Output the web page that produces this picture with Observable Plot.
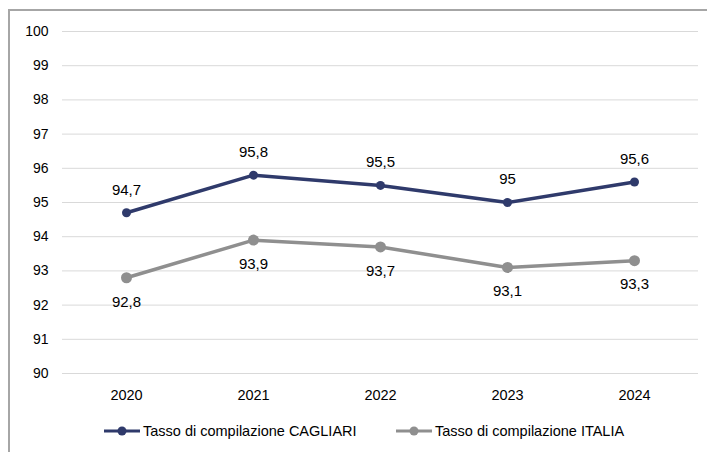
<!DOCTYPE html>
<html><head><meta charset="utf-8">
<script src="https://cdn.jsdelivr.net/npm/d3@7"></script>
<script src="https://cdn.jsdelivr.net/npm/@observablehq/plot@0.6"></script>
<style>
body{margin:0;background:#fff;font-family:"Liberation Sans",Arial,sans-serif;}
#wrap{position:relative;width:707px;height:452px;overflow:hidden;}
#chart{position:absolute;left:0;top:0;}
.bt{position:absolute;left:9px;top:9px;width:700px;height:2px;background:#a6a6a6;}
.bl{position:absolute;left:8px;top:9px;width:2px;height:450px;background:#a6a6a6;}
#legend{position:absolute;top:423px;left:0;width:707px;font-size:14.5px;color:#000;}
.item{position:absolute;display:flex;align-items:center;gap:2px;white-space:nowrap;}
</style></head>
<body><div id="wrap"><div class="bt"></div><div class="bl"></div><div id="chart"></div><div id="legend"></div></div>
<script>
const years = ["2020","2021","2022","2023","2024"];
const cagliari = [94.7, 95.8, 95.5, 95.0, 95.6];
const italia = [92.8, 93.9, 93.7, 93.1, 93.3];
const yTicks = [90,91,92,93,94,95,96,97,98,99,100];
const seriesNames = ["Tasso di compilazione CAGLIARI","Tasso di compilazione ITALIA"];
const colors = ["#2f3a6b","#8f8f8f"];

const dataC = years.map((y,i)=>({year:y, v:cagliari[i]}));
const dataI = years.map((y,i)=>({year:y, v:italia[i]}));
const fmt = v => String(v).replace(".", ",");

const plot = Plot.plot({
  width: 707, height: 410,
  marginTop: 31, marginBottom: 37, marginLeft: 62, marginRight: 9,
  style: {fontFamily: '"Liberation Sans", Arial, sans-serif', color: "#000", background: "transparent"},
  x: {type: "point", domain: years, padding: 0.5, label: null},
  y: {domain: [90, 100], label: null},
  marks: [
    Plot.ruleY(yTicks, {stroke: "#d9d9d9", strokeWidth: 1}),
    Plot.axisY({ticks: yTicks, tickSize: 0, tickPadding: 14, label: null, fontSize: 14, fill: "#000"}),
    Plot.axisX({tickSize: 0, tickPadding: 16, label: null, fontSize: 14.5, fill: "#000"}),
    Plot.line(dataI, {x: "year", y: "v", stroke: colors[1], strokeWidth: 3.5}),
    Plot.dot(dataI, {x: "year", y: "v", fill: colors[1], r: 5.5}),
    Plot.line(dataC, {x: "year", y: "v", stroke: colors[0], strokeWidth: 3.5}),
    Plot.dot(dataC, {x: "year", y: "v", fill: colors[0], r: 4.5}),
    Plot.text(dataC, {x: "year", y: "v", text: d => fmt(d.v), dy: -23, fontSize: 15, fill: "#000"}),
    Plot.text(dataI, {x: "year", y: "v", text: d => fmt(d.v), dy: 24, fontSize: 15, fill: "#000"})
  ]
});
d3.select(plot).selectAll('g[aria-label="y-axis tick label"] text').style("font-size", "14px");
d3.select(plot).selectAll('g[aria-label="x-axis tick label"] text').style("font-size", "14.5px");
document.getElementById("chart").appendChild(plot);

const lg = document.getElementById("legend");
const lefts = [103, 395];
seriesNames.forEach((n,i)=>{
  const d = document.createElement("div");
  d.className = "item";
  d.style.left = lefts[i] + "px";
  d.innerHTML = `<svg width="38" height="16"><line x1="1" x2="37" y1="8" y2="8" stroke="${colors[i]}" stroke-width="3"/><circle cx="19" cy="8" r="4.5" fill="${colors[i]}"/></svg><span>${n}</span>`;
  lg.appendChild(d);
});
</script></body></html>
